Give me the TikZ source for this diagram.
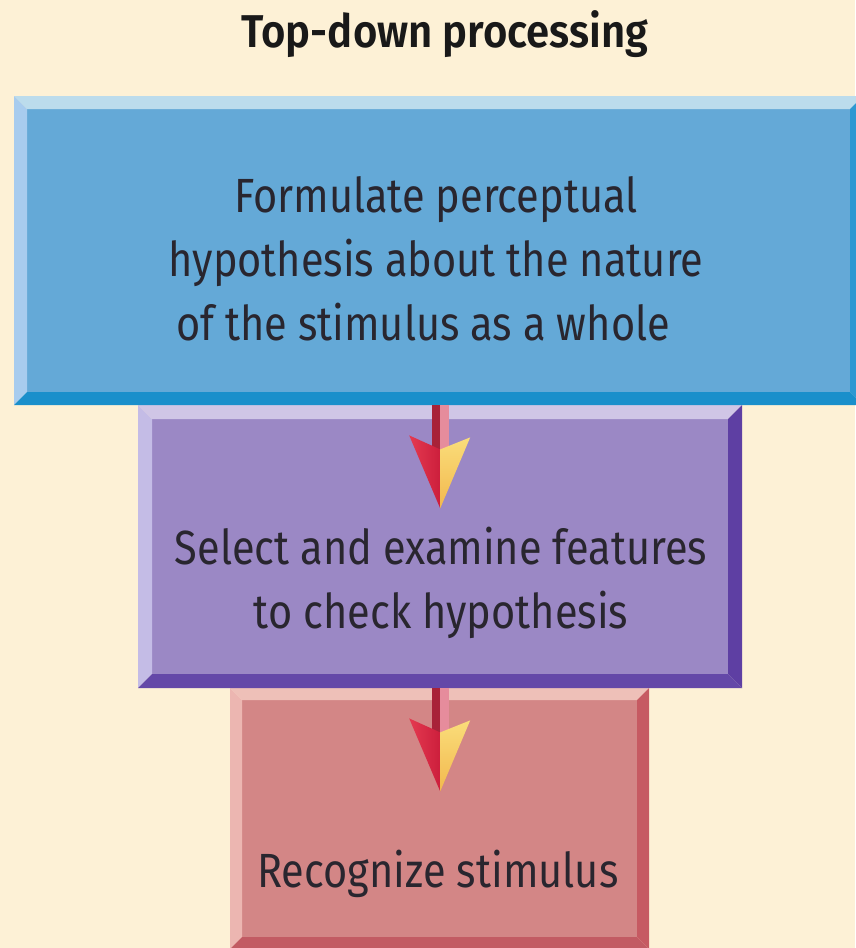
\documentclass[tikz,border=0pt]{standalone}
\usepackage{fontspec}
\setmainfont{Fira Sans}[FakeStretch=0.865]
\newfontfamily\titlefont{Fira Sans SemiBold}[FakeStretch=0.91]
\usetikzlibrary{calc}

\definecolor{paper}{HTML}{FDF1D6}
\definecolor{inktext}{HTML}{29262F}
% blue box
\definecolor{bface}{HTML}{64A9D7}
\definecolor{btop}{HTML}{BCDCEC}
\definecolor{bleft}{HTML}{A8CCEE}
\definecolor{bright}{HTML}{2E98D2}
\definecolor{bbottom}{HTML}{1A8FCB}
% purple box
\definecolor{pface}{HTML}{9B88C5}
\definecolor{ptop}{HTML}{D0C6E6}
\definecolor{pleft}{HTML}{C4BCE6}
\definecolor{pright}{HTML}{5E3FA3}
\definecolor{pbottom}{HTML}{6448A8}
% red box
\definecolor{rface}{HTML}{D38686}
\definecolor{rtop}{HTML}{EEC0B8}
\definecolor{rleft}{HTML}{ECB6B1}
\definecolor{rright}{HTML}{C65A62}
\definecolor{rbottom}{HTML}{C25B63}
% arrows
\definecolor{shaftdark}{HTML}{A82238}
\definecolor{shaftlight}{HTML}{E68C9C}
\definecolor{headredlight}{HTML}{E43A50}
\definecolor{headred}{HTML}{CC1E3C}
\definecolor{headyellowlight}{HTML}{FADD7A}
\definecolor{headyellow}{HTML}{F2B84E}

% bevelled box: #1 colour prefix, #2 node name, (#3,#4)-(#5,#6) outer corners, #7 bevel width
\newcommand{\bevelbox}[7]{%
  \node[minimum width={(#5-#3)*1pt}, minimum height={(#6-#4)*1pt},
        inner sep=0pt, anchor=north west] (#2) at (#3,#4) {};
  \fill[#1face] (#3+#7,#4+#7) rectangle (#5-#7,#6-#7);
  \fill[#1top] (#3,#4) -- (#5,#4) -- (#5-#7,#4+#7) -- (#3+#7,#4+#7) -- cycle;
  \fill[#1left] (#3,#4) -- (#3+#7,#4+#7) -- (#3+#7,#6-#7) -- (#3,#6) -- cycle;
  \fill[#1right] (#5,#4) -- (#5,#6) -- (#5-#7,#6-#7) -- (#5-#7,#4+#7) -- cycle;
  \fill[#1bottom] (#3,#6) -- (#3+#7,#6-#7) -- (#5-#7,#6-#7) -- (#5,#6) -- cycle;
}

\tikzset{
  boxtext/.style={text=inktext, align=center, inner sep=0pt, anchor=base,
    font=\fontsize{48}{64}\selectfont},
  titletext/.style={text=black!90, inner sep=0pt, anchor=base,
    font=\titlefont\fontsize{46}{50}\selectfont},
  stemarrow/.pic={
    \fill[shaftdark] (-8,0) rectangle (0,46);
    \fill[shaftlight] (0,0) rectangle (9,46);
    \shade[left color=headredlight, right color=headred]
      (-31,30) -- (0,44) -- (0,103) -- cycle;
    \shade[top color=headyellowlight, bottom color=headyellow]
      (0,44) -- (30,32) -- (0,103) -- cycle;
  }
}

\begin{document}
\begin{tikzpicture}[x=1pt, y=-1pt]
  \useasboundingbox (0,0) rectangle (855,948);
  \fill[paper] (0,0) rectangle (855,948);

  \node[titletext] (title) at (445,47) {Top-down processing};

  \bevelbox{r}{recog}{230}{688}{649}{949}{12}
  \bevelbox{p}{feat}{138}{405}{742}{688}{14}
  \bevelbox{b}{hyp}{14}{96}{863}{405}{13}

  % multi-line nodes sit on the baseline of their last line
  \node[boxtext] (hyptext) at (436,340)
    {Formulate perceptual\\hypothesis about the nature\\of the stimulus as a whole\hspace*{26pt}};
  \node[boxtext] (feattext) at (441,628)
    {Select and examine features\\to check hypothesis};
  \node[boxtext] (recogtext) at (438,887) {Recognize stimulus};

  % connectors between the boxes
  \pic at (hyp.south -| feat.north) {stemarrow};
  \pic at (feat.south -| feat.north) {stemarrow};
\end{tikzpicture}
\end{document}
